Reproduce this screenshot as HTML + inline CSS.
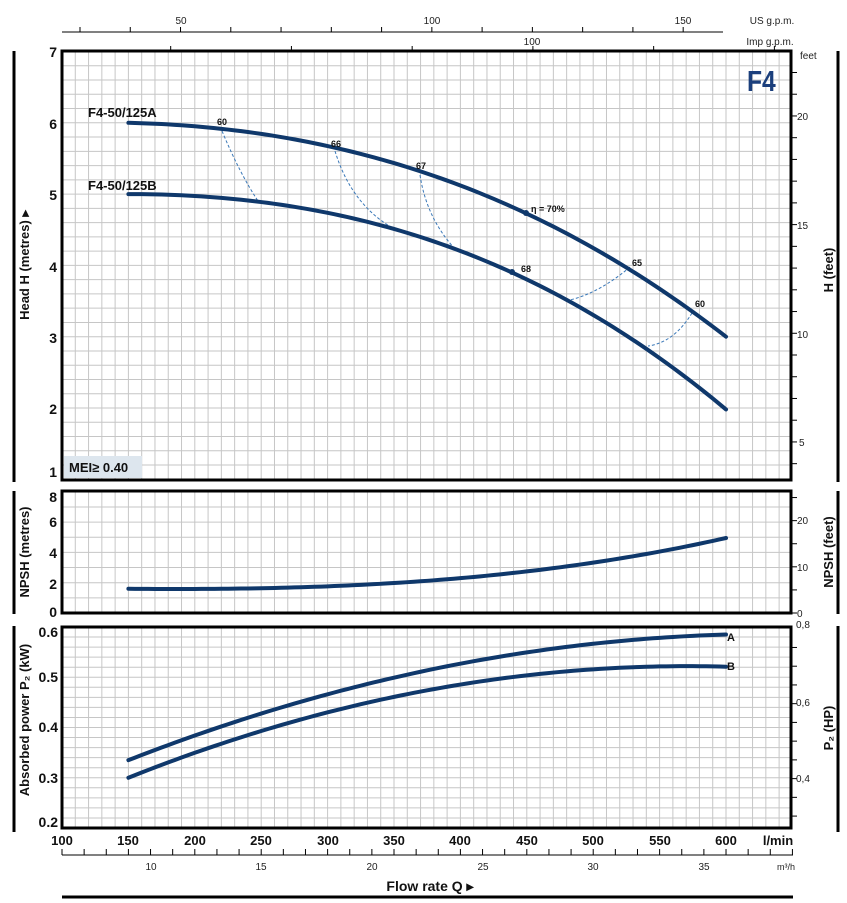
<!DOCTYPE html>
<html><head><meta charset="utf-8"><style>
html,body{margin:0;padding:0;background:#fff}
svg{display:block}
text{font-family:"Liberation Sans",sans-serif}
.b{font-weight:bold}
</style></head><body>
<svg id="s" width="847" height="903" viewBox="0 0 847 903" xmlns="http://www.w3.org/2000/svg">
<g id="grid"></g>
<g id="ticks" stroke="#000" stroke-width="1"></g>
<rect x="64" y="456" width="78" height="22" fill="#dde6ee"/>
<text x="69" y="472" font-size="13" class="b" fill="#111">MEI≥ 0.40</text>
<text x="747" y="91" font-size="29" class="b" fill="#1b3f7c" transform="translate(747,0) scale(0.85,1) translate(-747,0)">F4</text>
<g id="curves" fill="none"></g>
<g fill="none" stroke="#000" stroke-width="3">
<rect x="62" y="51" width="729" height="429"/>
<rect x="62" y="491" width="729" height="122"/>
<rect x="62" y="627" width="729" height="201"/>
</g>
<g stroke="#000" stroke-width="3">
<line x1="14" y1="51" x2="14" y2="482"/><line x1="14" y1="491" x2="14" y2="614"/><line x1="14" y1="626" x2="14" y2="832"/>
<line x1="838" y1="51" x2="838" y2="482"/><line x1="838" y1="491" x2="838" y2="614"/><line x1="838" y1="626" x2="838" y2="832"/>
<line x1="62" y1="897" x2="793" y2="897"/>
</g>
<g stroke="#000" stroke-width="1"><line x1="62" y1="32" x2="723" y2="32"/><line x1="62" y1="855" x2="793" y2="855"/></g>
<g font-size="14" class="b" text-anchor="end" fill="#111">
<text x="57" y="57">7</text><text x="57" y="129">6</text><text x="57" y="200">5</text><text x="57" y="272">4</text><text x="57" y="343">3</text><text x="57" y="414">2</text><text x="57" y="477">1</text>
<text x="57" y="502">8</text><text x="57" y="527">6</text><text x="57" y="558">4</text><text x="57" y="589">2</text><text x="57" y="617">0</text>
<text x="58" y="637">0.6</text><text x="58" y="682">0.5</text><text x="58" y="732">0.4</text><text x="58" y="783">0.3</text><text x="58" y="827">0.2</text>
</g>
<g font-size="13" class="b" text-anchor="middle" fill="#111">
<text x="62" y="845">100</text><text x="128" y="845">150</text><text x="195" y="845">200</text><text x="261" y="845">250</text><text x="328" y="845">300</text><text x="394" y="845">350</text><text x="460" y="845">400</text><text x="527" y="845">450</text><text x="593" y="845">500</text><text x="660" y="845">550</text><text x="726" y="845">600</text><text x="778" y="845">l/min</text>
</g>
<g font-size="10" fill="#222" text-anchor="middle">
<text x="151" y="870">10</text><text x="261" y="870">15</text><text x="372" y="870">20</text><text x="483" y="870">25</text><text x="593" y="870">30</text><text x="704" y="870">35</text><text x="786" y="870" font-size="9">m³/h</text>
<text x="181" y="24">50</text><text x="432" y="24">100</text><text x="683" y="24">150</text><text x="772" y="24">US g.p.m.</text>
<text x="532" y="45">100</text><text x="770" y="45">Imp g.p.m.</text>
</g>
<g font-size="10" fill="#222">
<text x="800" y="59">feet</text>
<text x="797" y="120">20</text><text x="797" y="229">15</text><text x="797" y="338">10</text><text x="799" y="446">5</text>
<text x="797" y="524">20</text><text x="797" y="571">10</text><text x="797" y="617">0</text>
<text x="796" y="628">0,8</text><text x="796" y="706">0,6</text><text x="796" y="782">0,4</text>
</g>
<text x="430" y="891" font-size="14" class="b" text-anchor="middle" fill="#111">Flow rate  Q  ▸</text>
<g font-size="13" class="b" fill="#111" text-anchor="middle">
<text transform="translate(29,265) rotate(-90)">Head H  (metres)  ▸</text>
<text transform="translate(29,552) rotate(-90)">NPSH  (metres)</text>
<text transform="translate(29,720) rotate(-90)">Absorbed power  P₂  (kW)</text>
<text transform="translate(833,270) rotate(-90)">H  (feet)</text>
<text transform="translate(833,552) rotate(-90)">NPSH  (feet)</text>
<text transform="translate(833,728) rotate(-90)">P₂  (HP)</text>
</g>
<g font-size="13" class="b" fill="#111">
<text x="88" y="117">F4-50/125A</text><text x="88" y="190">F4-50/125B</text>
<text x="727" y="641" font-size="11">A</text><text x="727" y="670" font-size="11">B</text>
</g>
<g font-size="9" class="b" fill="#111">
<text x="217" y="125">60</text><text x="331" y="147">66</text><text x="416" y="169">67</text><text x="531" y="212">η = 70%</text><text x="632" y="266">65</text><text x="695" y="307">60</text><text x="521" y="272">68</text>
</g>
</svg>
<script>
const NS="http://www.w3.org/2000/svg";
function el(p,t,a){const e=document.createElementNS(NS,t);for(const k in a)e.setAttribute(k,a[k]);p.appendChild(e);return e;}
const X=q=>62+(q-100)*1.328;
const YH=h=>51.5+(7-h)*71.3, YN=n=>613-15.15*n, YP=p=>627+(0.6-p)*502.5;
const g=document.getElementById('grid'),t=document.getElementById('ticks'),c=document.getElementById('curves');
const gs={stroke:"#c6c6c6","stroke-width":1};
function vgrid(y1,y2){for(let q=110;q<650;q+=10)el(g,'line',Object.assign({x1:X(q),x2:X(q),y1:y1,y2:y2},gs));}
vgrid(51,480);vgrid(491,613);vgrid(627,828);
for(let h=1.2;h<7;h+=0.2)el(g,'line',Object.assign({x1:62,x2:791,y1:YH(h),y2:YH(h)},gs));
for(let n=1;n<8;n++)el(g,'line',Object.assign({x1:62,x2:791,y1:YN(n),y2:YN(n)},gs));
for(let p=0.2;p<0.6;p+=0.02)el(g,'line',Object.assign({x1:62,x2:791,y1:YP(p),y2:YP(p)},gs));
for(let f=4;f<=22;f++){const y=YH(f*0.3048);if(y>52&&y<479)el(t,'line',{x1:791,x2:797,y1:y,y2:y});}
for(let f=0;f<=25;f+=5){const y=YN(f*0.3048);if(y>490)el(t,'line',{x1:791,x2:797,y1:y,y2:y});}
for(let hp=0.25;hp<=0.8;hp+=0.05){const y=YP(hp*0.7457);if(y>625&&y<829)el(t,'line',{x1:791,x2:797,y1:y,y2:y});}
for(let u=30;u<=170;u+=10){const x=X(u*3.785);if(x>=62&&x<=723)el(t,'line',{x1:x,x2:x,y1:27,y2:32});}
for(let u=40;u<=140;u+=20){const x=X(u*4.546);el(t,'line',{x1:x,x2:x,y1:46,y2:51});}
for(let m=6;m<=39;m++){const x=X(m*16.667);if(x>=62&&x<=793)el(t,'line',{x1:x,x2:x,y1:849,y2:855});}
function fpath(f,fy){let d="";for(let i=0;i<=90;i++){const x=i/90,q=150+450*x;d+=(i?" L":"M")+X(q).toFixed(2)+","+fy(f(x)).toFixed(2);}return d;}
const cs={stroke:"#0f386b","stroke-width":4,"stroke-linecap":"round","stroke-linejoin":"round",fill:"none"};
const ds={stroke:"#3a78b8","stroke-width":1,"stroke-dasharray":"3,2",fill:"none"};
[[[222,131],[240,170],[258,201]],[[335,151],[360,200],[400,232]],[[420,175],[432,215],[455,249]],[[630,267],[600,288],[570,300]],[[692,313],[672,336],[648,346]]].forEach(a=>{
el(c,'path',Object.assign({d:`M${a[0][0]},${a[0][1]} Q${2*a[1][0]-(a[0][0]+a[2][0])/2},${2*a[1][1]-(a[0][1]+a[2][1])/2} ${a[2][0]},${a[2][1]}`},ds));});
el(c,'path',Object.assign({d:fpath(x=>6-0.2*x-2.1*x*x-0.7*x*x*x,YH)},cs));
el(c,'path',Object.assign({d:fpath(x=>5-2.04*x*x-0.98*x*x*x,YH)},cs));
el(c,'path',Object.assign({d:fpath(x=>1.6-0.35*x+1.9*x*x+1.8*x*x*x,YN)},cs));
el(c,'path',Object.assign({d:fpath(x=>0.335+0.465*x-0.215*x*x,YP)},cs));
el(c,'path',Object.assign({d:fpath(x=>0.3+0.475*x-0.254*x*x,YP)},cs));
el(c,'circle',{cx:526,cy:213,r:3,fill:"#0f386b"});el(c,'circle',{cx:512,cy:272,r:3,fill:"#0f386b"});
</script>
</body></html>
